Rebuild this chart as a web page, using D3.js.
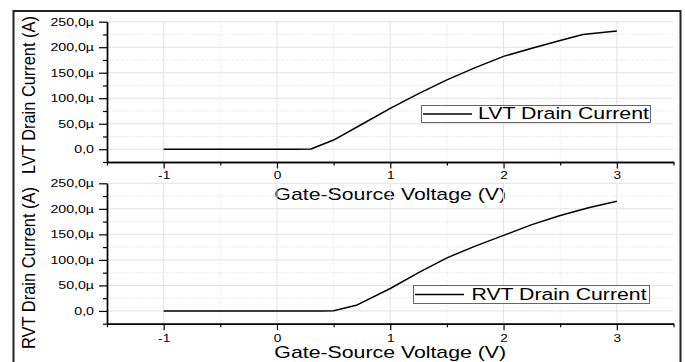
<!DOCTYPE html>
<html>
<head>
<meta charset="utf-8">
<script src="https://cdn.jsdelivr.net/npm/d3@7"></script>
<style>
  html, body { margin: 0; padding: 0; background: #fff; }
  svg { display: block; }
  text { font-family: "Liberation Sans", Arial, sans-serif; fill: #000; }
</style>
</head>
<body>
<svg id="chart" width="685" height="362"></svg>
<script>
// ---------- data (current in µA, voltage in V) ----------
const lvtVoltage = [-1, 0.15, 0.3, 0.5, 0.75, 1.0, 1.25, 1.5, 1.75, 2.0, 2.25, 2.5, 2.7, 3.0];
const lvtCurrent = [0, 0, 0.5, 18, 49, 80, 109, 136, 160, 182, 198, 213, 225, 232];

const rvtVoltage = [-1, 0.4, 0.5, 0.7, 1.0, 1.25, 1.5, 1.75, 2.0, 2.25, 2.5, 2.75, 3.0];
const rvtCurrent = [0, 0, 0.5, 11, 44, 75, 104, 127, 148, 169, 187, 202, 215];

const voltTicks = [-1, 0, 1, 2, 3];
const voltMinorTicks = [-1.5, -0.5, 0.5, 1.5, 2.5, 3.5];
const currentTicks = [0, 50, 100, 150, 200, 250];
const currentTickLabels = ["0,0", "50,0µ", "100,0µ", "150,0µ", "200,0µ", "250,0µ"];
const currentMinorTicks = [-25, 25, 75, 125, 175, 225];

const xTitle = "Gate-Source Voltage (V)";
const lvtYTitle = "LVT Drain Current (A)";
const rvtYTitle = "RVT Drain Current (A)";
const lvtLegend = "LVT Drain Current";
const rvtLegend = "RVT Drain Current";

// ---------- layout ----------
const svg = d3.select("#chart");
svg.append("rect").attr("width", 685).attr("height", 362).attr("fill", "#fff");

const X0 = 107, X1 = 673.5;
const x = d3.scaleLinear().domain([-1.5, 3.5]).range([X0, X1]);

function fitWidth(sel, target) {
  sel.each(function () {
    const t = d3.select(this);
    const w = this.getComputedTextLength();
    const sx = target / w;
    const ox = +t.attr("x") || 0;
    t.attr("x", ox / sx).attr("transform", `scale(${sx},1)`);
  });
}
function stretch(sel, sx) {
  sel.each(function () {
    const t = d3.select(this);
    const ox = +t.attr("x") || 0;
    t.attr("x", ox / sx).attr("transform", `scale(${sx},1)`);
  });
}

function panel(cfg) {
  const y = d3.scaleLinear().domain([-25, 250]).range([cfg.yBottom, cfg.yTop]);
  const g = svg.append("g");

  // grid
  const grid = g.append("g");
  grid.selectAll(".vmin").data(voltMinorTicks.filter(v => v < 3.5 && v > -1.5)).join("line")
    .attr("x1", d => x(d)).attr("x2", d => x(d))
    .attr("y1", y(-25)).attr("y2", y(250))
    .attr("stroke", "#dcdcdc").attr("stroke-width", 0.8).attr("stroke-dasharray", "1,1.5");
  grid.selectAll(".hmin").data(currentMinorTicks.filter(v => v > -25)).join("line")
    .attr("x1", X0).attr("x2", X1)
    .attr("y1", d => y(d)).attr("y2", d => y(d))
    .attr("stroke", "#dcdcdc").attr("stroke-width", 0.8).attr("stroke-dasharray", "1,1.5");
  grid.selectAll(".vmaj").data(voltTicks).join("line")
    .attr("x1", d => x(d)).attr("x2", d => x(d))
    .attr("y1", y(-25)).attr("y2", y(250))
    .attr("stroke", "#e2e2e2").attr("stroke-width", 1);
  grid.selectAll(".hmaj").data(currentTicks).join("line")
    .attr("x1", X0).attr("x2", X1)
    .attr("y1", d => y(d)).attr("y2", d => y(d))
    .attr("stroke", "#e2e2e2").attr("stroke-width", 1);

  // curve
  const pts = cfg.xs.map((v, i) => [v, cfg.ys[i]]);
  g.append("path").datum(pts)
    .attr("d", d3.line().x(d => x(d[0])).y(d => y(d[1])))
    .attr("fill", "none").attr("stroke", "#000").attr("stroke-width", 1.5)
    .attr("stroke-linejoin", "round");

  // axes
  const xMinorAxis = g.append("g").attr("transform", `translate(0,${cfg.yBottom})`)
    .call(d3.axisBottom(x).tickValues(voltMinorTicks).tickSize(3.5).tickSizeOuter(0).tickFormat(""));
  const xAxis = g.append("g").attr("transform", `translate(0,${cfg.yBottom})`)
    .call(d3.axisBottom(x).tickValues(voltTicks).tickSize(6.5).tickSizeOuter(0)
      .tickFormat(d3.format("d")));
  const yMinorAxis = g.append("g").attr("transform", `translate(${X0},0)`)
    .call(d3.axisLeft(y).tickValues(currentMinorTicks).tickSize(4).tickSizeOuter(0).tickFormat(""));
  const yAxis = g.append("g").attr("transform", `translate(${X0},0)`)
    .call(d3.axisLeft(y).tickValues(currentTicks).tickSize(8).tickSizeOuter(0)
      .tickFormat((d, i) => currentTickLabels[i]));

  [xMinorAxis, xAxis, yMinorAxis, yAxis].forEach(a => {
    a.selectAll("path.domain").attr("stroke", "#000").attr("stroke-width", 1.4);
    a.selectAll(".tick line").attr("stroke", "#000").attr("stroke-width", 1.2);
  });
  xAxis.selectAll(".tick text")
    .attr("font-size", 10.5).attr("dy", null).attr("y", cfg.xLabelOff)
    .attr("font-family", "Liberation Sans, Arial, sans-serif");
  stretch(xAxis.selectAll(".tick text"), 1.3);
  xAxis.selectAll(".tick text").text(d => d < 0 ? "-" + Math.abs(d) : d);
  yAxis.selectAll(".tick text")
    .attr("font-size", 10.5).attr("x", -13)
    .attr("font-family", "Liberation Sans, Arial, sans-serif");
  stretch(yAxis.selectAll(".tick text"), 1.35);

  // x title
  const xt = g.append("text")
    .attr("x", 0).attr("y", 0)
    .attr("font-size", 17).attr("text-anchor", "middle")
    .text(xTitle);
  const w = xt.node().getComputedTextLength();
  xt.attr("transform", `translate(${(X0 + X1) / 2},${cfg.xTitleY}) scale(${232 / w},1)`);

  // y title
  const yt = g.append("text")
    .attr("font-size", 16).attr("text-anchor", "middle")
    .text(cfg.yTitle);
  const wl = yt.node().getComputedTextLength();
  yt.attr("transform", `translate(35,${cfg.yTitleCY}) scale(1.12,${cfg.yTitleLen / wl}) rotate(-90)`);

  // legend
  const L = cfg.legend;
  const lg = g.append("g");
  lg.append("rect").attr("x", L.x0).attr("y", L.y0)
    .attr("width", L.x1 - L.x0).attr("height", L.y1 - L.y0)
    .attr("fill", "#fff").attr("stroke", "#666").attr("stroke-width", 1);
  lg.append("line").attr("x1", L.x0 + 1.5).attr("x2", L.lineEnd)
    .attr("y1", (L.y0 + L.y1) / 2).attr("y2", (L.y0 + L.y1) / 2)
    .attr("stroke", "#000").attr("stroke-width", 1.5);
  const lt = lg.append("text").attr("x", L.textX).attr("y", L.baseline)
    .attr("font-size", 16.3).text(L.label);
  fitWidth(lt, L.textW);
}

panel({
  yTop: 21.7, yBottom: 162,
  xs: lvtVoltage, ys: lvtCurrent,
  xLabelOff: 17, xTitleY: 199.5,
  yTitle: lvtYTitle, yTitleCY: 95, yTitleLen: 158,
  legend: { x0: 421.5, x1: 650.5, y0: 105.5, y1: 122.5, lineEnd: 472, textX: 478, baseline: 119.5, textW: 171, label: lvtLegend }
});
panel({
  yTop: 183.3, yBottom: 323.7,
  xs: rvtVoltage, ys: rvtCurrent,
  xLabelOff: 18.5, xTitleY: 358.3,
  yTitle: rvtYTitle, yTitleCY: 268, yTitleLen: 162,
  legend: { x0: 413.5, x1: 649.5, y0: 285.5, y1: 303.5, lineEnd: 464, textX: 471.5, baseline: 300, textW: 175, label: rvtLegend }
});

// outer frame
svg.append("rect").attr("x", 13.5).attr("y", 11).attr("width", 667).attr("height", 365)
  .attr("fill", "none").attr("stroke", "#222").attr("stroke-width", 2);
</script>
</body>
</html>
